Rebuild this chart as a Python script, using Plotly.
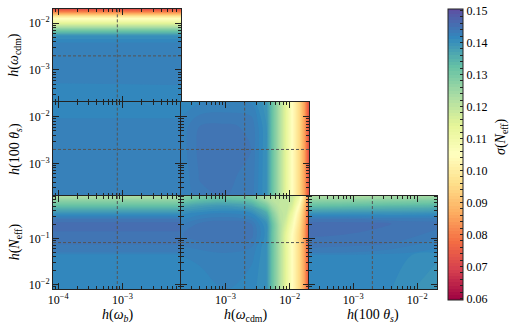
import numpy as np
import plotly.graph_objects as go
from plotly.subplots import make_subplots
from plotly.colors import diverging

# axis ranges, log10 of the step size h(...)
range_wb = [-4.08, -2.09]
range_wcdm = [-3.69, -1.70]
range_theta = [-3.69, -1.69]
range_neff = [-2.10, -0.07]

# fiducial step sizes (log10), shown as dotted cross-hairs
fid_wb = -3.08
fid_wcdm = -2.70
fid_theta = -2.70
fid_neff = -1.09

# grid nodes (log10 of the step size) at which sigma(N_eff) was read
grid_wb = [-4.10, -3.08, -2.07]
grid_wcdm_x = [-3.72, -3.40, -3.00, -2.60, -2.36, -2.27, -2.16, -2.05, -1.96, -1.85, -1.77, -1.68]
grid_wcdm_y = [-3.72, -3.35, -3.20, -2.47, -2.27, -2.15, -2.04, -1.89, -1.785, -1.68]
grid_theta_x = [-3.72, -3.00, -2.40, -1.66]
grid_theta_y2 = [-3.72, -2.08, -2.00, -1.66]
grid_theta_y3 = [-3.72, -3.20, -2.70, -2.20, -1.66]
grid_neff = [-2.12, -1.36, -1.30, -1.10, -0.68, -0.58, -0.47, -0.32, -0.17, -0.05]
grid_neff_32 = [-2.12, -1.60, -1.36, -1.20, -0.92, -0.68, -0.45, -0.30, -0.17, -0.05]

# sigma(N_eff), rows follow the y grid, columns the x grid
sigma_wb_wcdm = [
    [0.1412, 0.1412, 0.1412],
    [0.1415, 0.1417, 0.1419],
    [0.1426, 0.1426, 0.1426],
    [0.1428, 0.1428, 0.1428],
    [0.1400, 0.1400, 0.1400],
    [0.1300, 0.1300, 0.1300],
    [0.1180, 0.1180, 0.1180],
    [0.1030, 0.1030, 0.1030],
    [0.0840, 0.0840, 0.0840],
    [0.0680, 0.0680, 0.0680],
]
sigma_wb_theta = [
    [0.1427, 0.1427, 0.1427],
    [0.1427, 0.1427, 0.1427],
    [0.1416, 0.1416, 0.1416],
    [0.1414, 0.1414, 0.1414],
]
sigma_wcdm_theta = [
    [0.1418, 0.1438, 0.1440, 0.1436, 0.1400, 0.132, 0.123, 0.113, 0.105, 0.095, 0.085, 0.068],
    [0.1420, 0.1441, 0.1442, 0.1438, 0.1400, 0.132, 0.123, 0.113, 0.105, 0.095, 0.085, 0.068],
    [0.1422, 0.1443, 0.1443, 0.1440, 0.1400, 0.132, 0.123, 0.113, 0.105, 0.095, 0.085, 0.068],
    [0.1422, 0.1440, 0.1442, 0.1438, 0.1400, 0.132, 0.123, 0.113, 0.105, 0.095, 0.085, 0.068],
    [0.1415, 0.1418, 0.1420, 0.1418, 0.1392, 0.132, 0.123, 0.113, 0.105, 0.095, 0.085, 0.068],
]
sigma_wb_neff = [
    [0.1415, 0.1415, 0.1415],
    [0.1417, 0.1417, 0.1417],
    [0.1430, 0.1430, 0.1430],
    [0.1442, 0.1442, 0.1442],
    [0.1455, 0.1455, 0.1455],
    [0.1440, 0.1440, 0.1440],
    [0.1405, 0.1405, 0.1405],
    [0.1340, 0.1340, 0.1340],
    [0.1270, 0.1270, 0.1270],
    [0.1210, 0.1210, 0.1210],
]
sigma_wcdm_neff = [
    [0.1415, 0.1420, 0.1420, 0.1415, 0.1400, 0.132, 0.123, 0.113, 0.105, 0.095, 0.085, 0.068],
    [0.1416, 0.1420, 0.1425, 0.1420, 0.1400, 0.132, 0.123, 0.113, 0.105, 0.095, 0.085, 0.068],
    [0.1419, 0.1425, 0.1428, 0.1425, 0.1400, 0.132, 0.123, 0.113, 0.105, 0.095, 0.085, 0.068],
    [0.1428, 0.1432, 0.1435, 0.1430, 0.1400, 0.132, 0.123, 0.113, 0.105, 0.095, 0.085, 0.068],
    [0.1438, 0.1448, 0.1450, 0.1445, 0.1405, 0.132, 0.123, 0.113, 0.105, 0.095, 0.085, 0.068],
    [0.1425, 0.1442, 0.1448, 0.1440, 0.1400, 0.132, 0.123, 0.116, 0.108, 0.097, 0.086, 0.068],
    [0.1405, 0.1415, 0.1420, 0.1410, 0.1360, 0.128, 0.121, 0.119, 0.112, 0.100, 0.088, 0.069],
    [0.1360, 0.1380, 0.1390, 0.1370, 0.1300, 0.124, 0.120, 0.120, 0.116, 0.104, 0.090, 0.070],
    [0.1300, 0.1330, 0.1340, 0.1320, 0.1240, 0.121, 0.120, 0.120, 0.118, 0.108, 0.093, 0.072],
    [0.1250, 0.1280, 0.1290, 0.1270, 0.1210, 0.120, 0.120, 0.120, 0.119, 0.112, 0.097, 0.074],
]
sigma_theta_neff = [
    [0.1417, 0.1417, 0.1410, 0.1388],
    [0.1419, 0.1419, 0.1416, 0.1402],
    [0.1432, 0.1430, 0.1425, 0.1415],
    [0.1448, 0.1445, 0.1440, 0.1425],
    [0.1455, 0.1455, 0.1450, 0.1445],
    [0.1440, 0.1440, 0.1435, 0.1435],
    [0.1405, 0.1405, 0.1405, 0.1408],
    [0.1340, 0.1345, 0.1350, 0.1355],
    [0.1270, 0.1275, 0.1280, 0.1290],
    [0.1210, 0.1210, 0.1220, 0.1230],
]

label_wb = "<i>h</i>(<i>ω<sub>b</sub></i>)"
label_wcdm = "<i>h</i>(<i>ω</i><sub>cdm</sub>)"
label_theta = "<i>h</i>(100 <i>θ<sub>s</sub></i>)"
label_neff = "<i>h</i>(<i>N</i><sub>eff</sub>)"
cbar_label = "<i>σ</i>(<i>N</i><sub>eff</sub>)"

FONT = "Liberation Serif"
W, H = 516, 328
ML, MR, MT, MB = 53, 79, 9, 39

# (row, col, x grid, y grid, z, x range, y range, x fiducial, y fiducial)
panels = [
    (1, 1, grid_wb, grid_wcdm_y, sigma_wb_wcdm, range_wb, range_wcdm, fid_wb, fid_wcdm),
    (2, 1, grid_wb, grid_theta_y2, sigma_wb_theta, range_wb, range_theta, fid_wb, fid_theta),
    (2, 2, grid_wcdm_x, grid_theta_y3, sigma_wcdm_theta, range_wcdm, range_theta, fid_wcdm, fid_theta),
    (3, 1, grid_wb, grid_neff, sigma_wb_neff, range_wb, range_neff, fid_wb, fid_neff),
    (3, 2, grid_wcdm_x, grid_neff_32, sigma_wcdm_neff, range_wcdm, range_neff, fid_wcdm, fid_neff),
    (3, 3, grid_theta_x, grid_neff, sigma_theta_neff, range_theta, range_neff, fid_theta, fid_neff),
]
col_labels = {1: label_wb, 2: label_wcdm, 3: label_theta}
row_labels = {1: label_wcdm, 2: label_theta, 3: label_neff}


def log_ticks(rng):
    """Major (decades) and minor (2..9) tick values inside a log10 range."""
    major, minor = [], []
    for k in range(int(np.floor(rng[0])), int(np.ceil(rng[1])) + 1):
        if rng[0] <= k <= rng[1]:
            major.append(10.0 ** k)
        for m in range(2, 10):
            v = m * 10.0 ** k
            if rng[0] <= np.log10(v) <= rng[1]:
                minor.append(v)
    return major, minor


def axis_style(rng, show_labels):
    major, minor = log_ticks(rng)
    text = ["10<sup>−%d</sup>" % round(-np.log10(v)) for v in major]
    return dict(
        type="log", range=rng, showgrid=False, zeroline=False, automargin=False,
        showline=True, linecolor="#222", linewidth=1, mirror="allticks",
        ticks="inside", ticklen=6, tickcolor="#222", tickwidth=1,
        tickvals=major, ticktext=text, showticklabels=show_labels,
        tickfont=dict(family=FONT, size=12, color="black"),
        minor=dict(tickvals=minor, ticks="inside", ticklen=3, tickcolor="#222", showgrid=False),
    )


specs = [[{}, None, None], [{}, {}, None], [{}, {}, {}]]
fig = make_subplots(rows=3, cols=3, specs=specs, horizontal_spacing=0, vertical_spacing=0)

for row, col, gx, gy, z, xr, yr, fx, fy in panels:
    fig.add_trace(go.Contour(
        x=[10.0 ** v for v in gx], y=[10.0 ** v for v in gy], z=z,
        coloraxis="coloraxis", autocontour=False,
        contours=dict(start=0.06, end=0.15, size=0.001, coloring="fill", showlines=False),
        line=dict(width=0), hoverinfo="skip",
    ), row=row, col=col)
    fig.update_xaxes(axis_style(xr, row == 3), row=row, col=col)
    fig.update_yaxes(axis_style(yr, col == 1), row=row, col=col)
    fig.add_vline(x=10.0 ** fx, line=dict(color="#555", width=1, dash="3px,2px"), row=row, col=col)
    fig.add_hline(y=10.0 ** fy, line=dict(color="#555", width=1, dash="3px,2px"), row=row, col=col)

# axis titles as annotations (bottom row and left column)
pw, ph = W - ML - MR, H - MT - MB
for col, text in col_labels.items():
    fig.add_annotation(text=text, xref="paper", yref="paper", x=(col - 0.5) / 3, y=(289 - 315) / ph,
                       showarrow=False, xanchor="center", yanchor="middle",
                       font=dict(family=FONT, size=14, color="black"))
for row, text in row_labels.items():
    fig.add_annotation(text=text, xref="paper", yref="paper", x=(15 - ML) / pw, y=1 - (row - 0.5) / 3,
                       showarrow=False, xanchor="center", yanchor="middle", textangle=-90,
                       font=dict(family=FONT, size=14, color="black"))
fig.add_annotation(text=cbar_label, xref="paper", yref="paper", x=(501 - ML) / pw, y=(289 - 137) / ph,
                   showarrow=False, xanchor="center", yanchor="middle", textangle=-90,
                   font=dict(family=FONT, size=14, color="black"))

fig.update_layout(
    width=W, height=H,
    margin=dict(l=ML, r=MR, t=MT, b=MB, autoexpand=False),
    paper_bgcolor="white", plot_bgcolor="white",
    showlegend=False,
    font=dict(family=FONT, size=12, color="black"),
    coloraxis=dict(
        colorscale=diverging.Spectral, cmin=0.06, cmax=0.15,
        colorbar=dict(
            x=(448 - ML) / pw, xanchor="left", xpad=0, ypad=0,
            y=1.0, yanchor="top", lenmode="pixels", len=291, thickness=15,
            outlinewidth=1, outlinecolor="#222",
            tickmode="linear", tick0=0.06, dtick=0.002, ticklabelstep=5, tickformat=".2f",
            ticks="inside", ticklen=3, tickcolor="#222",
            tickfont=dict(family=FONT, size=12, color="black"),
        ),
    ),
)

# the page body has a default 8px margin; drop it so the figure sits at the corner
fig.write_html("out.html", config={"displayModeBar": False},
               post_script="document.body.style.margin='0';")
